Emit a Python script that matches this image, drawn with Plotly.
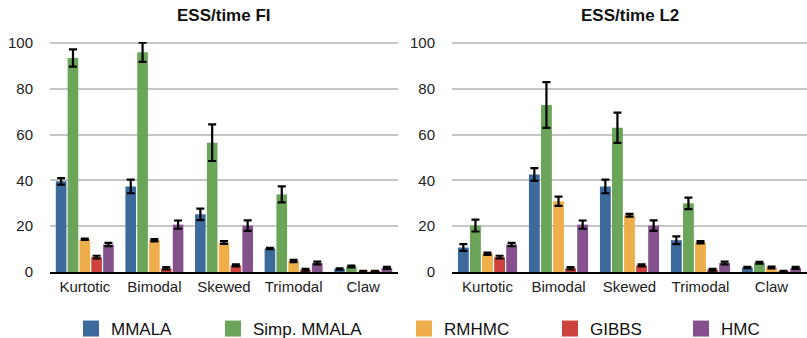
import plotly.graph_objects as go
from plotly.subplots import make_subplots

categories = ["Kurtotic", "Bimodal", "Skewed", "Trimodal", "Claw"]
series_names = ["MMALA", "Simp. MMALA", "RMHMC", "GIBBS", "HMC"]
colors = ["#3d6a9c", "#6aa55a", "#eeae4a", "#ce423e", "#84518d"]

# ESS/time FI
fi_mmala = [39.6, 37.4, 25.2, 10.3, 1.3]
fi_simp = [93.5, 96.0, 56.5, 33.9, 2.4]
fi_rmhmc = [14.3, 13.9, 12.9, 4.8, 0.3]
fi_gibbs = [6.5, 1.6, 2.9, 1.0, 0.3]
fi_hmc = [12.0, 20.7, 20.3, 3.9, 1.8]

fi_mmala_err = [1.4, 3.0, 2.5, 0.3, 0.3]
fi_simp_err = [3.8, 4.2, 8.0, 3.5, 0.4]
fi_rmhmc_err = [0.3, 0.5, 0.6, 0.5, 0.2]
fi_gibbs_err = [0.6, 0.5, 0.4, 0.4, 0.2]
fi_hmc_err = [0.7, 1.8, 2.3, 0.6, 0.4]

# ESS/time L2
l2_mmala = [10.7, 42.6, 37.4, 13.9, 2.0]
l2_simp = [20.3, 73.0, 63.0, 30.0, 4.0]
l2_rmhmc = [8.0, 30.9, 24.8, 13.0, 2.0]
l2_gibbs = [6.5, 1.6, 2.9, 1.0, 0.3]
l2_hmc = [12.0, 20.7, 20.3, 3.9, 1.8]

l2_mmala_err = [1.5, 2.8, 3.0, 1.7, 0.3]
l2_simp_err = [2.6, 10.0, 6.6, 2.5, 0.4]
l2_rmhmc_err = [0.5, 2.0, 0.6, 0.5, 0.4]
l2_gibbs_err = [0.6, 0.5, 0.4, 0.4, 0.2]
l2_hmc_err = [0.7, 1.8, 2.3, 0.6, 0.4]

y_ticks = [0, 20, 40, 60, 80, 100]
titles = ["ESS/time FI", "ESS/time L2"]

fi = [fi_mmala, fi_simp, fi_rmhmc, fi_gibbs, fi_hmc]
fi_err = [fi_mmala_err, fi_simp_err, fi_rmhmc_err, fi_gibbs_err, fi_hmc_err]
l2 = [l2_mmala, l2_simp, l2_rmhmc, l2_gibbs, l2_hmc]
l2_err = [l2_mmala_err, l2_simp_err, l2_rmhmc_err, l2_gibbs_err, l2_hmc_err]

W, H = 807, 338
T, B = 42, 66
FONT = "Liberation Sans, Arial, Helvetica, sans-serif"

fig = make_subplots(rows=1, cols=2)

for col, (vals, errs) in enumerate([(fi, fi_err), (l2, l2_err)], start=1):
    for i, name in enumerate(series_names):
        fig.add_trace(go.Bar(
            x=categories, y=vals[i], name=name,
            marker=dict(color=colors[i], line=dict(width=0)),
            error_y=dict(type="data", array=errs[i], color="black",
                         thickness=2.2, width=4),
            showlegend=False,
        ), row=1, col=col)

# legend entries (one legend per entry to reproduce spacing)
legend_x = [71, 213, 404, 550, 681]
for i, name in enumerate(series_names):
    lg = "legend" if i == 0 else f"legend{i+1}"
    fig.add_trace(go.Scatter(
        x=[None], y=[None], mode="markers", name=name,
        marker=dict(symbol="square", size=16, color=colors[i]),
        legend=lg, showlegend=True,
    ), row=1, col=1)

legend_common = dict(
    orientation="h", xref="container", yref="container",
    xanchor="left", yanchor="middle", y=1 - 329 / H,
    font=dict(family=FONT, size=17, color="#111111"),
    bgcolor="rgba(0,0,0,0)", borderwidth=0, itemsizing="trace",
)
layout_legends = {}
for i in range(5):
    key = "legend" if i == 0 else f"legend{i+1}"
    layout_legends[key] = dict(legend_common, x=legend_x[i] / W)

axis_y = dict(
    range=[0, 100.5], tickvals=y_ticks, showgrid=True,
    gridcolor="#c6c6c6", gridwidth=1.5, zeroline=False, showline=False,
    ticks="", ticklabelstandoff=16,
    tickfont=dict(family=FONT, size=15, color="#222222"),
)
axis_x = dict(
    showline=True, linecolor="black", linewidth=2, ticks="",
    tickfont=dict(family=FONT, size=15, color="#222222"),
    showgrid=False, zeroline=False,
)

fig.update_layout(
    width=W, height=H,
    margin=dict(l=0, r=0, t=T, b=B),
    paper_bgcolor="white", plot_bgcolor="white",
    barmode="group", bargap=0.15, bargroupgap=0.1,
    xaxis=dict(axis_x, domain=[50 / W, 398 / W]),
    xaxis2=dict(axis_x, domain=[452 / W, 1.0]),
    yaxis=axis_y, yaxis2=axis_y,
    **layout_legends,
)

plot_h = H - T - B
for t, x0, x1 in [(titles[0], 50, 398), (titles[1], 452, 807)]:
    fig.add_annotation(
        text=f"<b>{t}</b>", x=(x0 + x1) / 2 / W, y=(H - B - 15) / plot_h,
        xref="paper", yref="paper", showarrow=False,
        xanchor="center", yanchor="middle",
        font=dict(family=FONT, size=17, color="#111111"),
    )

fig.write_html("out.html")
